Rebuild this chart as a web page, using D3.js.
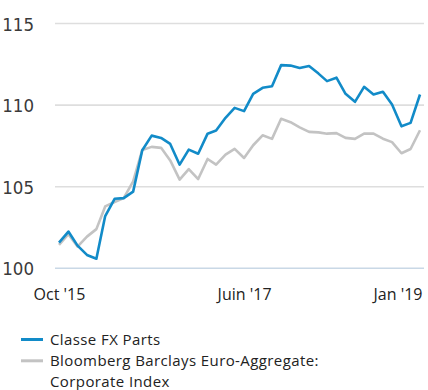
<!DOCTYPE html>
<html>
<head>
<meta charset="utf-8">
<script src="https://cdn.jsdelivr.net/npm/d3@7"></script>
<style>
  html, body { margin: 0; padding: 0; background: #ffffff; }
  svg { display: block; }
  .ylab { font-family: "Liberation Sans Narrow", "DejaVu Sans Condensed", sans-serif; font-size: 18.5px; fill: #3a3a3a; }
  .xlab { font-family: "Open Sans", Lato, sans-serif; font-size: 16px; fill: #222222; }
  .leg { font-family: "Open Sans", Lato, sans-serif; font-size: 15px; letter-spacing: 0.4px; fill: #222222; }
</style>
</head>
<body>
<svg id="chart" width="428" height="390"></svg>
<script>
// Monthly index values, Oct 2015 – Jan 2019 (base 100)
const startMonth = new Date(2015, 9, 1);
const fundValues = [
  101.57, 102.25, 101.39, 100.82, 100.59, 103.20, 104.26, 104.30, 104.70, 107.23,
  108.13, 107.99, 107.62, 106.35, 107.27, 107.02, 108.25, 108.44, 109.22, 109.83,
  109.63, 110.69, 111.06, 111.16, 112.45, 112.42, 112.27, 112.39, 111.93, 111.47,
  111.68, 110.69, 110.20, 111.12, 110.65, 110.82, 110.04, 108.70, 108.91, 110.65
];
const indexValues = [
  101.43, 102.09, 101.33, 101.94, 102.40, 103.79, 104.06, 104.30, 105.32, 107.25,
  107.44, 107.38, 106.61, 105.43, 106.08, 105.47, 106.70, 106.35, 106.96, 107.32,
  106.76, 107.54, 108.15, 107.93, 109.16, 108.95, 108.64, 108.36, 108.33, 108.25,
  108.28, 107.99, 107.93, 108.25, 108.25, 107.94, 107.73, 107.05, 107.31, 108.46
];
const yTicks = [100, 105, 110, 115];
const xTickDates = [new Date(2015, 9, 1), new Date(2017, 5, 1), new Date(2019, 0, 1)];
const xTickLabels = ["Oct '15", "Juin '17", "Jan '19"];
const fundName = "Classe FX Parts";
const indexNameLines = ["Bloomberg Barclays Euro-Aggregate:", "Corporate Index"];

const months = fundValues.map((_, i) => d3.timeMonth.offset(startMonth, i));

const svg = d3.select("#chart");
const x = d3.scaleTime().domain([months[0], months[months.length - 1]]).range([59, 420]);
const y = d3.scaleLinear().domain([100, 115]).range([268.3, 23.5]);

// horizontal gridlines
svg.append("g").selectAll("line").data(yTicks).join("line")
  .attr("x1", 55).attr("x2", 424)
  .attr("y1", d => y(d)).attr("y2", d => y(d))
  .attr("stroke", d => d === 100 ? "#c9d8e6" : "#dedede")
  .attr("stroke-width", 1.6);

// y-axis labels
const yAxis = d3.axisLeft(y).tickValues(yTicks).tickSize(0).tickPadding(0).tickFormat(d3.format("d"));
const gy = svg.append("g").attr("transform", "translate(34,0)").call(yAxis);
gy.select(".domain").remove();
gy.selectAll("text").attr("class", "ylab").attr("fill", null).attr("font-size", null).attr("font-family", null)
  .attr("dy", "0.36em");

// x-axis labels
const xAxis = d3.axisBottom(x).tickValues(xTickDates).tickSize(0).tickPadding(0)
  .tickFormat((d, i) => xTickLabels[i]);
const gx = svg.append("g").attr("transform", "translate(0,288)").call(xAxis);
gx.select(".domain").remove();
gx.selectAll("text").attr("class", "xlab").attr("fill", null).attr("font-size", null).attr("font-family", null)
  .attr("dy", "0.75em");
gx.selectAll("text").filter((d, i) => i === xTickDates.length - 1)
  .attr("text-anchor", "end").attr("dx", 2);

// series lines
const line = d3.line().x((d, i) => x(months[i])).y(d => y(d));
svg.append("path").datum(indexValues).attr("d", line)
  .attr("fill", "none").attr("stroke", "#c3c3c3").attr("stroke-width", 2.6)
  .attr("stroke-linejoin", "round");
svg.append("path").datum(fundValues).attr("d", line)
  .attr("fill", "none").attr("stroke", "#128bc8").attr("stroke-width", 2.6)
  .attr("stroke-linejoin", "round");

// legend
const leg = svg.append("g");
leg.append("line").attr("x1", 21).attr("x2", 43).attr("y1", 339.5).attr("y2", 339.5)
  .attr("stroke", "#128bc8").attr("stroke-width", 3);
leg.append("line").attr("x1", 21).attr("x2", 43).attr("y1", 360.8).attr("y2", 360.8)
  .attr("stroke", "#c3c3c3").attr("stroke-width", 3);
leg.append("text").attr("class", "leg").attr("x", 50).attr("y", 345).text(fundName);
const idxText = leg.append("text").attr("class", "leg").attr("x", 50).attr("y", 366);
idxText.selectAll("tspan").data(indexNameLines).join("tspan")
  .attr("x", 50).attr("dy", (d, i) => i === 0 ? 0 : 20.6)
  .text(d => d);
</script>
</body>
</html>
